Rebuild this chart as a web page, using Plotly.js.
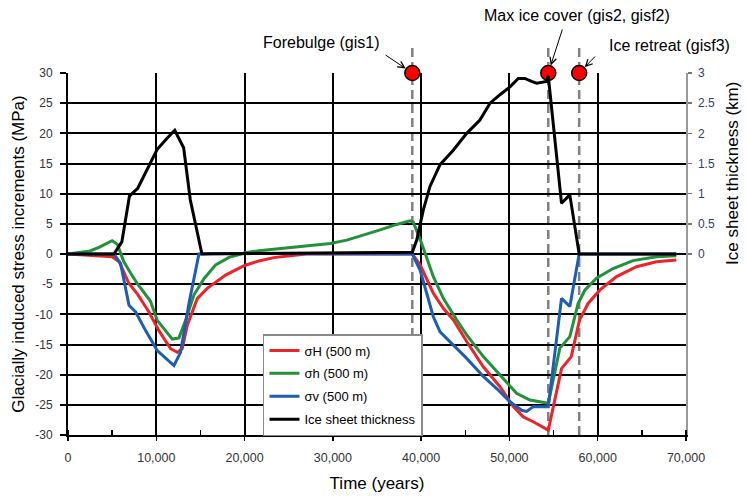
<!DOCTYPE html>
<html>
<head>
<meta charset="utf-8">
<script src="https://cdn.plot.ly/plotly-3.0.1.min.js"></script>
<style>
  html, body { margin: 0; padding: 0; background: #fff; }
  #chart { width: 747px; height: 497px; }
</style>
</head>
<body>
<div id="chart"></div>
<script>
// Glacially induced stress increments at 500 m depth and ice sheet thickness over time

// Maximum horizontal stress, sigma H (MPa)
const timeSigmaH = [0, 3500, 5000, 5800, 6900, 7850, 9170, 10300, 11620, 12380, 12940, 13510, 14640, 15770, 17850, 20000, 21500, 23300, 25000, 27000, 39000, 39880, 41380, 42510, 43640, 45160, 47040, 48930, 50440, 51570, 52700, 54400, 55900, 57000, 57950, 58910, 60230, 62130, 64390, 66650, 68900];
const sigmaH = [0, -0.3, -0.45, -1.3, -4.9, -6.6, -9.6, -12.7, -15.7, -16.3, -15.7, -11.8, -7.4, -5.7, -3.5, -1.9, -1.2, -0.6, -0.3, 0, 0, -1.8, -6.5, -9.0, -10.9, -14.5, -18.7, -22.0, -25.3, -27.0, -27.8, -29.2, -19.0, -17.0, -10.9, -8.2, -6.0, -3.75, -2.1, -1.3, -1.0];

// Minimum horizontal stress, sigma h (MPa)
const timeSigmah = [0, 2500, 3500, 5000, 5600, 6300, 7100, 7850, 9330, 10110, 11810, 12570, 13320, 14260, 15400, 16720, 18230, 20110, 21620, 23280, 27050, 29700, 31580, 33460, 35350, 37230, 38740, 39100, 40000, 41380, 42510, 44020, 45160, 47040, 48930, 50810, 52320, 54400, 55710, 56840, 57780, 58540, 59860, 61740, 64000, 66650, 68900];
const sigmah = [0, 0.5, 1.1, 2.2, 1.6, -1.2, -3.2, -4.9, -7.8, -11.0, -14.1, -13.9, -11.0, -6.8, -4.1, -1.8, -0.55, 0.2, 0.55, 0.8, 1.3, 1.75, 2.3, 3.1, 4.0, 4.9, 5.5, 5.3, 2.0, -3.75, -7.35, -10.9, -13.4, -17.0, -20.0, -23.1, -24.2, -24.75, -15.6, -13.7, -8.2, -6.0, -4.0, -2.4, -1.1, -0.45, -0.3];

// Vertical stress, sigma v (MPa)
const timeSigmaV = [0, 5200, 5960, 6910, 7660, 8790, 10110, 12000, 12750, 13700, 14830, 16000, 39000, 39880, 40630, 41380, 42140, 43270, 45160, 47040, 48550, 50060, 51380, 51950, 52700, 54400, 55900, 56840, 57900, 68900];
const sigmaV = [0, 0, -1.6, -8.5, -9.6, -12.7, -16.0, -18.5, -16.3, -8.2, 0, 0.1, 0, -2.65, -6.5, -10.4, -12.9, -14.5, -17.3, -20.3, -22.3, -24.5, -25.9, -26.1, -25.3, -25.3, -7.35, -8.7, 0, 0];

// Ice sheet thickness (km)
const timeIce = [0, 5200, 6100, 6960, 7900, 9150, 10090, 11220, 12090, 13100, 13850, 15170, 39000, 39500, 40250, 41000, 42140, 43640, 45160, 46660, 47800, 48930, 50060, 51000, 51750, 52510, 53080, 54210, 54400, 55900, 56840, 57900, 68900];
const iceThickness = [0, 0, 0.2, 0.96, 1.09, 1.45, 1.73, 1.92, 2.05, 1.76, 0.9, 0, 0.03, 0.23, 0.73, 1.12, 1.48, 1.72, 2.0, 2.22, 2.5, 2.64, 2.77, 2.91, 2.91, 2.86, 2.83, 2.86, 2.95, 0.84, 0.98, 0, 0];

// Key glacial events (time in years, marked on the 30 MPa line)
const eventTimes = [39000, 54400, 57900];
const eventStress = [30, 30, 30];
const eventLabels = ['Forebulge (gis1)', 'Max ice cover (gis2, gisf2)', 'Ice retreat (gisf3)'];

// Axis ticks
const stressTicks = [-30, -25, -20, -15, -10, -5, 0, 5, 10, 15, 20, 25, 30];
const stressTickText = ['-30', '-25', '-20', '-15', '-10', '-5', '0', '5', '10', '15', '20', '25', '30'];
const iceTicks = [0, 0.5, 1, 1.5, 2, 2.5, 3];
const iceTickText = ['0', '0.5', '1', '1.5', '2', '2.5', '3'];

const FONT = 'Liberation Sans, Arial, sans-serif';

// Placement of the event callouts: label centre (paper) and arrow tail (axis units)
const labelPos = [[0.4094, 1.0856], [0.8244, 1.1583], [0.9741, 1.0773]];
const arrowTail = [[35800, 33.15], [56050, 37.46], [59860, 32.98]];

const traces = [
  { x: timeSigmaH, y: sigmaH, name: 'σH (500 m)', legendgroup: 'a', mode: 'lines',
    line: { color: '#ee2229', width: 3 } },
  { x: timeSigmah, y: sigmah, name: 'σh (500 m)', legendgroup: 'b', mode: 'lines',
    line: { color: '#23903a', width: 3 } },
  { x: timeSigmaV, y: sigmaV, name: 'σv (500 m)', legendgroup: 'c', mode: 'lines',
    line: { color: '#1c5db5', width: 3 } },
  { x: timeIce, y: iceThickness, name: 'Ice sheet thickness', legendgroup: 'd', mode: 'lines',
    yaxis: 'y2', line: { color: '#000000', width: 3 } },
  { x: eventTimes, y: eventStress, mode: 'markers', showlegend: false, cliponaxis: false,
    marker: { size: 15, color: '#ff0000', line: { color: '#000', width: 1.5 } } }
];

const shapes = eventTimes.map(t => ({
  type: 'line', xref: 'x', yref: 'paper', x0: t, x1: t, y0: 0.0, y1: 1.077,
  layer: 'between', line: { color: '#808080', width: 2.5, dash: '9px,5px' }
}));

const annotations = [];
eventTimes.forEach((t, i) => {
  annotations.push({
    xref: 'x', yref: 'y', x: t, y: eventStress[i], text: '',
    showarrow: true, axref: 'x', ayref: 'y', ax: arrowTail[i][0], ay: arrowTail[i][1],
    arrowhead: 5, arrowsize: 1.3, arrowwidth: 1, arrowcolor: '#000', standoff: 8
  });
  annotations.push({
    xref: 'paper', yref: 'paper', x: labelPos[i][0], y: labelPos[i][1], text: eventLabels[i],
    xanchor: 'center', yanchor: 'middle',
    showarrow: false, font: { family: FONT, size: 16, color: '#000' }
  });
});
annotations.push({
  xref: 'paper', yref: 'paper', x: 1.076, y: 0.724, xanchor: 'center', yanchor: 'middle',
  text: 'Ice sheet thickness (km)',
  textangle: -90, showarrow: false, font: { family: FONT, size: 17, color: '#000' }
});

const layout = {
  width: 747, height: 497,
  margin: { l: 68, r: 61, t: 73, b: 62 },
  paper_bgcolor: '#fff', plot_bgcolor: '#fff',
  font: { family: FONT, color: '#000' },
  showlegend: true,
  legend: {
    x: 0.3155, y: 0.279, xanchor: 'left', yanchor: 'top',
    bgcolor: '#fff', bordercolor: '#8a8a8a', borderwidth: 1.5,
    font: { family: FONT, size: 13, color: '#000' },
    traceorder: 'grouped', tracegroupgap: 3, itemwidth: 30
  },
  xaxis: {
    range: [0, 70000], dtick: 10000, tick0: 0, tickformat: ',d',
    showgrid: true, gridcolor: '#000', gridwidth: 2,
    showline: true, linecolor: '#000', linewidth: 2,
    ticks: 'outside', ticklen: 4, tickwidth: 1.5, tickcolor: '#000',
    minor: { dtick: 5000, ticks: 'inside', ticklen: 5, tickwidth: 1.5, tickcolor: '#000', showgrid: false },
    zeroline: false, ticklabelstandoff: 6,
    tickfont: { family: FONT, size: 12.5, color: '#333' },
    title: { text: 'Time (years)', font: { family: FONT, size: 17, color: '#000' }, standoff: 13 }
  },
  yaxis: {
    range: [-30, 30], tickvals: stressTicks, ticktext: stressTickText,
    showgrid: true, gridcolor: '#000', gridwidth: 2,
    showline: true, linecolor: '#000', linewidth: 2,
    ticks: 'outside', ticklen: 6, tickwidth: 2, tickcolor: '#000',
    zeroline: false, ticklabelstandoff: 5,
    tickfont: { family: FONT, size: 12, color: '#333' },
    title: { text: 'Glacially induced stress increments (MPa)', font: { family: FONT, size: 17, color: '#000' }, standoff: 6 }
  },
  yaxis2: {
    overlaying: 'y', side: 'right', range: [-3, 3],
    tickvals: iceTicks, ticktext: iceTickText,
    showgrid: false, zeroline: false,
    showline: true, linecolor: '#999', linewidth: 1.5,
    ticks: 'outside', ticklen: 4, tickwidth: 1.5, tickcolor: '#777',
    ticklabelstandoff: 4,
    tickfont: { family: FONT, size: 12, color: '#34425e' }
  },
  shapes: shapes,
  annotations: annotations
};

Plotly.newPlot('chart', traces, layout, { staticPlot: true, displayModeBar: false });
</script>
</body>
</html>
